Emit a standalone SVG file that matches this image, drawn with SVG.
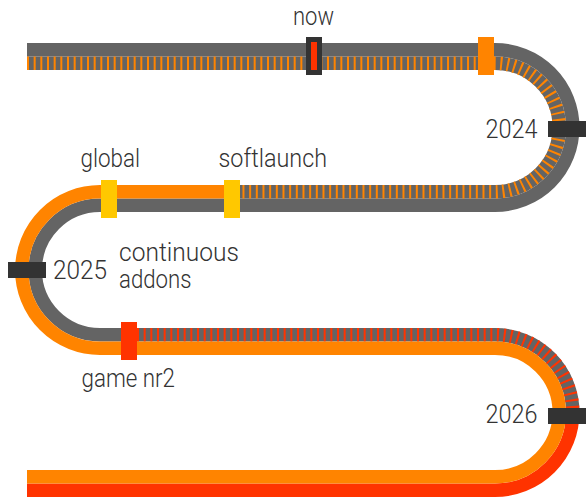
<svg xmlns="http://www.w3.org/2000/svg" width="586" height="502" viewBox="0 0 586 502">
  <style>
    .lane { fill: none; stroke-width: 13.5; stroke-linecap: butt; }
    .gray { stroke: #646464; }
    .orange { stroke: #ff8400; }
    .red { stroke: #ff3300; }
    .dash { stroke-dasharray: 2 4.667; }
    .lbl { font-family: Roboto, "Liberation Sans", sans-serif; font-weight: 300; font-size: 25px; fill: #333333; }
    .dark { fill: #333333; }
    .yel { fill: #ffc800; }
    .org { fill: #ff8400; }
    .rd { fill: #ff3300; }
  </style>
  <rect width="586" height="502" fill="#ffffff"/>
  <g id="track">
    <!-- lane X (outer at top) -->
    <path class="lane gray" d="M27,49.75 H495 A77.75,77.75 0 0 1 495,205.25 H100 A64.75,64.75 0 0 0 100,334.75 H495 A77.75,77.75 0 0 1 572.75,412.5"/>
    <path class="lane red dash" d="M137,334.75 H495 A77.75,77.75 0 0 1 572.75,412.5"/>
    <path class="lane red" d="M572.75,412.5 A77.75,77.75 0 0 1 495,490.25 H27"/>
    <!-- lane Y (inner at top) -->
    <path class="lane gray" d="M27,63.25 H495 A64.25,64.25 0 0 1 495,191.75 H232"/>
    <path class="lane orange dash" d="M27,63.25 H495 A64.25,64.25 0 0 1 495,191.75 H232"/>
    <path class="lane orange" d="M232,191.75 H100 A78.25,78.25 0 0 0 100,348.25 H495 A64.25,64.25 0 0 1 495,476.75 H27"/>
  </g>
  <g id="markers">
    <g id="now">
      <rect class="dark" x="306" y="37" width="16" height="38"/>
      <rect class="rd" x="311" y="42" width="6" height="28"/>
      <text class="lbl" x="293" y="25" textLength="41" lengthAdjust="spacingAndGlyphs">now</text>
    </g>
    <g id="turn-2024">
      <rect class="org" x="478" y="37" width="16" height="38"/>
    </g>
    <g id="y2024">
      <rect class="dark" x="548" y="121" width="38" height="16"/>
      <text class="lbl" x="485.5" y="138.3" textLength="52" lengthAdjust="spacingAndGlyphs">2024</text>
    </g>
    <g id="softlaunch">
      <rect class="yel" x="224" y="180" width="16" height="38"/>
      <text class="lbl" x="218.5" y="167.3" textLength="108.5" lengthAdjust="spacingAndGlyphs">softlaunch</text>
    </g>
    <g id="global">
      <rect class="yel" x="101" y="180" width="16" height="38"/>
      <text class="lbl" x="80.5" y="166.7" textLength="59.5" lengthAdjust="spacingAndGlyphs">global</text>
    </g>
    <g id="y2025">
      <rect class="dark" x="8" y="262" width="38" height="16"/>
      <text class="lbl" x="53" y="279.3" textLength="54" lengthAdjust="spacingAndGlyphs">2025</text>
    </g>
    <g id="continuous-addons">
      <text class="lbl" x="119" y="260.7" textLength="120" lengthAdjust="spacingAndGlyphs">continuous</text>
      <text class="lbl" x="119" y="287.7" textLength="72.5" lengthAdjust="spacingAndGlyphs">addons</text>
    </g>
    <g id="game-nr2">
      <rect class="rd" x="121" y="322" width="16" height="38"/>
      <text class="lbl" x="81.5" y="387.3" textLength="93.5" lengthAdjust="spacingAndGlyphs">game nr2</text>
    </g>
    <g id="y2026">
      <rect class="dark" x="548" y="408" width="38" height="16"/>
      <text class="lbl" x="485.5" y="422.7" textLength="52" lengthAdjust="spacingAndGlyphs">2026</text>
    </g>
  </g>
</svg>
